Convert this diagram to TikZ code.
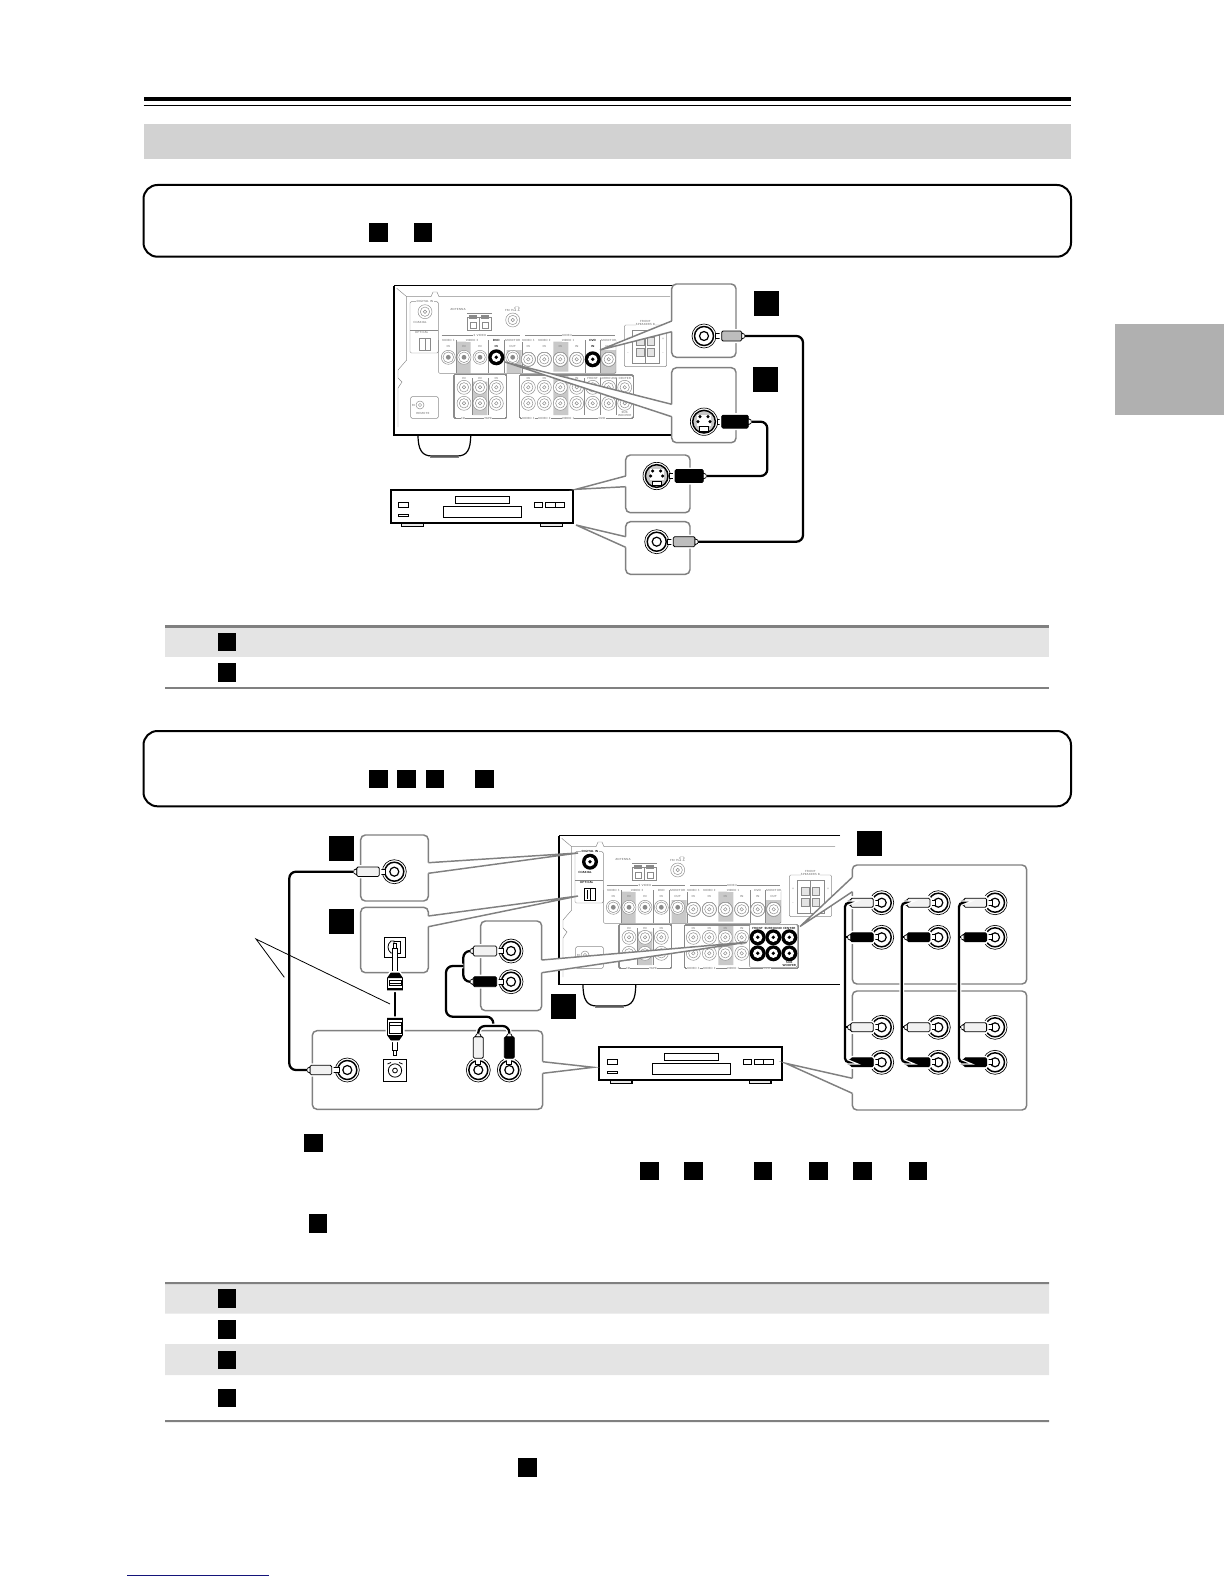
\documentclass[tikz,border=0pt]{standalone}
\usetikzlibrary{positioning}
\definecolor{bandgray}{HTML}{D2D2D2}
\definecolor{tablegray}{HTML}{E4E4E4}
\definecolor{rulegray}{HTML}{808080}
\definecolor{tabgray}{HTML}{B0B0B0}
\definecolor{plugGray}{HTML}{BDBDBD}
\definecolor{plugWhite}{HTML}{F2F2F2}
\definecolor{panelgray}{HTML}{8A8A8A}
\definecolor{hilite}{HTML}{C9C9C9}
\definecolor{footnavy}{HTML}{14147A}
\tikzset{
	panel/.style={draw=panelgray,line width=.35pt},
	paneltext/.style={text=panelgray,inner sep=.2pt,font=\fontsize{2.2}{2.5}\selectfont\sffamily\bfseries,align=center},
	darktext/.style={paneltext,text=black,fill=white},
	tag/.style={fill=black,inner sep=0pt,minimum width=13.9pt,minimum height=14pt},
	bigtag/.style={fill=black,inner sep=0pt,minimum size=18.75pt},
	notebox/.style={draw=black,line width=1.5pt,rounded corners=10.5pt},
	boxline/.style={draw=rulegray,line width=1.1pt,rounded corners=3.5pt},
	plugline/.style={draw=black,line width=.6pt},
	halo/.style={preaction={draw=white,line width=3pt}},
	cable/.style={draw=black,line width=1.7pt,rounded corners=5pt,preaction={draw=white,line width=3.6pt}},
	jackrim/.style={circle,draw=black,fill=white,line width=.5pt,inner sep=0pt,minimum size=18pt},
	jackring/.style={circle,draw=black,line width=1.1pt,inner sep=0pt,minimum size=14.25pt},
	jackcore/.style={circle,draw=black,line width=.9pt,inner sep=0pt,minimum size=6.75pt},
	sjackrim/.style={jackrim,minimum size=20.5pt},
	sjackring/.style={jackring,fill=hilite,minimum size=17pt},
	socket/.style={rectangle,draw=black,fill=white,line width=.7pt,inner sep=0pt,minimum width=16pt,minimum height=15pt},
}
\newcommand{\pjack}[2]{%
	\draw[panel,fill=white] (#1,#2) circle (5.25pt);
	\draw[panel] (#1,#2) circle (3.5pt) (#1,#2) circle (1.3pt);
}
\newcommand{\psjack}[2]{%
	\draw[panel,fill=white] (#1,#2) circle (5.25pt);
	\draw[panel] (#1,#2) circle (4pt);
	\fill[panelgray] (#1,#2) circle (1.8pt);
}
\newcommand{\blackjack}[2]{%
	\node (#1) at (#2) [circle,fill=black,inner sep=0pt,minimum size=12pt] {};
	\node (#1r) at (#1) [circle,fill=white,inner sep=0pt,minimum size=7pt] {};
	\node (#1c) at (#1) [circle,fill=black,inner sep=0pt,minimum size=2.8pt] {};
}
\newcommand{\rcajack}[2]{%
	\node (#1) at (#2) [jackrim] {};
	\node (#1r) at (#1) [jackring] {};
	\node (#1c) at (#1) [jackcore] {};
}
\newcommand{\sjack}[2]{%
	\node (#1) at (#2) [sjackrim] {};
	\node (#1r) at (#1) [sjackring] {};
	\begin{scope}[shift={(#1)}]
		\fill[white] (-7,-7) rectangle (7,4);
		\fill (-4,-5) circle (1.3pt) (4,-5) circle (1.3pt) (-6,0) circle (1.3pt) (6,0) circle (1.3pt);
		\draw[plugline,fill=white] (-4.5,5) rectangle (4.5,9.5);
	\end{scope}
}
\newcommand{\rcaplug}[7]{%
	\begin{scope}[shift={(#1)},rotate=#2]
		\draw[plugline,fill=white] (#3,-2.5) rectangle (#4,2.5);
		\draw[plugline,fill=#6,rounded corners=1pt,halo] (#4,-#7) rectangle (#5,#7);
		\draw[plugline,fill=white] (#5,-3) -- ({#5+3},-1.5) -- ({#5+3},1.5) -- (#5,3) -- cycle;
		\coordinate (#1e) at ({#5+3},0);
	\end{scope}
}
\newcommand{\optplug}[5]{%
	\begin{scope}[shift={(#2)},rotate=#3]
		\coordinate (#1) at (0,0);
		\draw[plugline,fill=white] (#4,-2.5) rectangle ({#4+#5-5},2.5);
		\draw[plugline,fill=white] ({#4+#5-5},-1.5) rectangle ({#4+#5},1.5);
		\draw[plugline,fill=white,halo] (0,-7.5) -- ({#4-5},-7.5) -- (#4,-4) -- (#4,4) -- ({#4-5},7.5) -- (0,7.5) -- cycle;
		\fill (0,-7.5) rectangle (2,7.5);
		\fill ({#4-5},-7.5) -- (#4,-4) -- (#4,4) -- ({#4-5},7.5) -- cycle;
		\draw[plugline] (4.5,-6) rectangle ({#4-7},6) (7,-6) -- (7,6);
	\end{scope}
}
\newcommand{\calloutleft}[8]{%
	\coordinate (#1) at (#8);
	\fill[white,rounded corners=3.5pt] (#2,#3) rectangle (#4,#5);
	\draw[boxline] (#2,#6) -- (#2,#3) -- (#4,#3) -- (#4,#5) -- (#2,#5) -- (#2,#7);
	\draw[boxline,sharp corners,fill=white] (#2,#6) -- (#1) -- (#2,#7);
}
\newcommand{\calloutright}[8]{%
	\coordinate (#1) at (#8);
	\fill[white,rounded corners=3.5pt] (#2,#3) rectangle (#4,#5);
	\draw[boxline] (#4,#6) -- (#4,#3) -- (#2,#3) -- (#2,#5) -- (#4,#5) -- (#4,#7);
	\draw[boxline,sharp corners,fill=white] (#4,#6) -- (#1) -- (#4,#7);
}
\newcommand{\dvdplayer}[2]{%
	\begin{scope}[shift={(#1,#2)}]
		\draw[line width=.9pt,fill=hilite!40] (401.7,523.3) rectangle (423.3,526.8) (540.7,523.3) rectangle (562.3,526.8);
		\draw[line width=1.5pt,fill=white] (390.7,490) rectangle (573.3,523.3);
		\draw[line width=.7pt] (455.3,496.7) rectangle (509.7,503.3) (443.3,506.7) rectangle (521.7,517.3);
		\draw[line width=.7pt] (398.3,502.3) rectangle (408.7,507.3) (398.3,514.3) rectangle (408.7,516.7);
		\foreach \bx/\by in {534.3/542.7,545.3/555,555/564.3}
			\draw[line width=.7pt] (\bx,502.3) rectangle (\by,507.3);
	\end{scope}
}
\newcommand{\receiver}[3]{%
	\begin{scope}[shift={(#1,#2)}]
		\draw[line width=.9pt] (675,285.7) -- (394,285.7);
		\draw[line width=#3] (394,285.7) -- (394,434.7) -- (675,434.7);
		\draw[line width=.9pt] (418,434.7) .. controls (418,450) and (422,456) .. (432,456) -- (457,456) .. controls (467,456) and (470.7,450) .. (470.7,434.7);
		\draw[rulegray,line width=1.2pt] (430,457.6) -- (459,457.6);
		\draw[panel] (396.7,288.3) -- (406.7,296.7) -- (431,296.7) -- (433,292) -- (437,292) -- (439,296.7) -- (670,296.7);
		\draw[panel] (406.7,296.7) -- (406.7,360) -- (398,370) -- (398,378) -- (402,382) -- (398,388) -- (398,427);
		\draw[panel,rounded corners=1pt] (410,301.7) rectangle (438.3,353);
		\draw[panel] (410,330) -- (438.3,330);
		\pjack{425}{311.7}
		\draw[panel] (419.5,338.5) rectangle (430.5,350) (425,338.5) -- (425,350);
		\node (lbDigital) at (425,301.7) [paneltext,fill=white] {DIGITAL IN};
		\node (lbCoax) at (420,322.3) [paneltext] {COAXIAL};
		\node (lbOpt) at (421.7,332.7) [paneltext] {OPTICAL};
		\node (lbAnt) at (458,309) [paneltext] {ANTENNA};
		\draw[panel] (467,313) -- (491.5,313);
		\foreach \ax in {467,479.3} {
			\draw[panel] (\ax,317) rectangle (\ax+12,330);
			\draw[panel] (\ax+3,322) rectangle (\ax+9,328);
			\fill[panelgray] (\ax+2,315) rectangle (\ax+10,319);
		}
		\pjack{512.7}{320}
		\node (lbFm) at (512.7,309) [paneltext] {FM 75$\Omega$};
		\fill[hilite] (456,341.7) rectangle (470.7,373.3) (506.7,350) rectangle (521.7,373.3);
		\fill[hilite] (553.3,341.7) rectangle (568.3,371.7) (601,350) rectangle (616,373.3);
		\fill[hilite] (472.7,381.7) rectangle (487.3,415) (553.3,375) rectangle (568.3,415);
		\draw[panel,rounded corners=1pt] (438.3,340) -- (438.3,373.3) -- (616,373.3) -- (616,340);
		\draw[panel] (441.7,335) -- (520,335) (525,335) -- (615,335);
		\foreach \dx in {456,488,504.5,522,585,600.5}
			\draw[panel] (\dx,340) -- (\dx,373.3);
		\node (lbSvideo) at (480,335) [paneltext,fill=white] {S VIDEO};
		\node (lbVideo) at (567,335) [paneltext,fill=white] {VIDEO};
		\foreach \lx/\lname [count=\li] in {448.3/VIDEO 3,472/VIDEO 2,496.3/DVD,512.7/MONITOR,528.3/VIDEO 3,544.3/VIDEO 2,568/VIDEO 1,592.7/DVD,608.7/MONITOR}
			\node (lbCol\li) at (\lx,340.5) [paneltext,fill=white] {\lname};
		\foreach \lx [count=\li] in {448.3,464,480,496.3,528.3,544.3,560.3,576.7,592.7}
			\node (lbIn\li) at (\lx,346) [paneltext] {IN};
		\foreach \lx [count=\li] in {512.7,608.7}
			\node (lbOut\li) at (\lx,346) [paneltext] {OUT};
		\foreach \sx in {448.3,464,480,496.3,512.7}
			\psjack{\sx}{357.3}
		\foreach \vx in {528.3,544.3,560.3,576.7,592.7,608.7}
			\pjack{\vx}{359.3}
		\draw[panel,rounded corners=1pt] (454,374.3) rectangle (506.7,418.3) (519.3,375) rectangle (633.3,418.3);
		\foreach \dx in {472,488,584.5,600.5,616.5}
			\draw[panel] (\dx,378) -- (\dx,415);
		\foreach \lx [count=\li] in {464,480,496.3,528.3,544.3,560.3,576.7} {
			\node (lbLow\li) at (\lx,378.5) [paneltext] {IN};
			\pjack{\lx}{387.3}
			\pjack{\lx}{403.3}
		}
		\foreach \lx in {592.7,608.7,624.7} {
			\pjack{\lx}{387.3}
			\pjack{\lx}{403.3}
		}
		\foreach \lx/\lname [count=\li] in {592.7/FRONT,608.7/SURROUND,624.7/CENTER}
			\node (lbFr\li) at (\lx,378.3) [paneltext] {\lname};
		\node (lbSub) at (624.7,414) [paneltext] {SUB\\WOOFER};
		\foreach \lx/\lname [count=\li] in {463/CD,488/TAPE,528.3/VIDEO 3,544.3/VIDEO 2,568/VIDEO 1,602/DVD}
			\node (lbBot\li) at (\lx,418.3) [paneltext,fill=white] {\lname};
		\draw[panel,rounded corners=1pt] (410.7,396.7) rectangle (438.3,418.3);
		\draw[panel] (420,405) circle (3pt) (420,405) circle (1.2pt);
		\node (lbRi) at (413.5,405) [paneltext] {RI};
		\node (lbRem) at (423,413.5) [paneltext] {REMOTE};
		\draw[panel,rounded corners=1pt] (624.3,325) rectangle (666.7,366.7);
		\node (lbSpk) at (645.5,322.7) [paneltext,fill=white] {FRONT\\SPEAKERS B};
		\draw[panel] (632.3,330) rectangle (659,363.3) (645.5,330) -- (645.5,363.3);
		\foreach \sx in {636.7,647} \foreach \sy in {337.3,348.3}
			\draw[panel,fill=hilite!50] (\sx,\sy) rectangle (\sx+7.6,\sy+7.7);
		\node (lbPlusA) at (628,339) [paneltext] {+};
		\node (lbPlusB) at (663,339) [paneltext] {+};
		\node (lbMinA) at (628,353) [paneltext] {--};
		\node (lbMinB) at (663,353) [paneltext] {--};
	\end{scope}
}
\begin{document}
\begin{tikzpicture}[x=.75pt,y=-.75pt]
	\useasboundingbox (0,0) rectangle (1224,1584);
	\fill (143.5,97) rectangle (1071,101);
	\draw[line width=.9pt] (143.5,105.5) -- (1071,105.5);
	\fill[bandgray] (143.5,124) rectangle (1071,158.7);
	\fill[tabgray] (1115,324) rectangle (1224,415);
	\draw[footnavy,line width=.8pt] (127,1575.3) -- (269,1575.3);

	\draw[notebox] (143.5,185) rectangle (1071,256.7);
	\node (noteTagA) at (378.3,232.5) [tag] {};
	\node (noteTagB) at (423,232.5) [tag] {};

	\receiver{0}{0}{1.5pt}
	\calloutleft{tipCoax}{671.7}{284}{736}{357.3}{321}{331.7}{600,350}
	\calloutleft{tipSvid}{671.7}{367.7}{736}{442.7}{404.3}{416.7}{505,362}
	\dvdplayer{0}{0}
	\calloutleft{tipDvdS}{625.7}{455}{690}{512.7}{476}{486.7}{576,489.3}
	\calloutleft{tipDvdC}{625.7}{521.7}{690}{574.3}{536.7}{547.3}{576,525}
	\blackjack{rxSvid}{496.3,357.3}
	\blackjack{rxCoax}{592.7,359.3}
	\node (lbDvdS) at (496.3,340.5) [darktext] {DVD};
	\node (lbInS) at (496.3,346) [darktext] {IN};
	\node (lbDvdC) at (592.7,340.5) [darktext] {DVD};
	\node (lbInC) at (592.7,346) [darktext] {IN};
	\node (tagCoax) at (766.5,303.5) [bigtag] {};
	\node (tagSvid) at (765.5,379) [bigtag] {};

	\rcajack{jkCoax}{704,336}
	\sjack{jkSvid}{704,421.7}
	\sjack{jkDvdS}{656.7,476}
	\rcajack{jkDvdC}{656.7,541.7}
	\rcaplug{jkCoax}{0}{11}{17.7}{37.7}{plugGray}{5}
	\rcaplug{jkSvid}{0}{13}{17.7}{44.3}{black}{6.5}
	\rcaplug{jkDvdS}{0}{13}{18.3}{46.6}{black}{6.5}
	\rcaplug{jkDvdC}{0}{11}{16.6}{38.3}{plugGray}{5}
	\draw[cable] (jkCoaxe) -- (803,336) -- (803,541.7) -- (jkDvdCe);
	\draw[cable] (jkSvide) -- (767.3,421.7) -- (767.3,476) -- (jkDvdSe);

	\fill[tablegray] (165,627.7) rectangle (1049,656.7);
	\fill[rulegray] (165,687) rectangle (1049,689);
	\fill[rulegray] (165,625) rectangle (1049,627.7);
	\node (rowTagA) at (227,642) [tag] {};
	\node (rowTagB) at (227,672.5) [tag] {};

	\draw[notebox] (143.5,731) rectangle (1071,806.3);
	\foreach \tx [count=\tn] in {378.3,406.4,434.9,484.5}
		\node (noteTag\tn) at (\tx,779) [tag] {};

	\receiver{165}{550}{.9pt}
	\dvdplayer{208.7}{556.7}
	\calloutright{tipDigi}{360.7}{835}{428.3}{901}{862.7}{873.3}{578,853}
	\calloutright{tipOpti}{360.7}{907.3}{428.3}{972.7}{916}{926.7}{578,896}
	\calloutright{tipAna}{480.7}{921}{541.7}{1010.7}{960}{972.7}{746.7,942.3}
	\calloutright{tipDvdB}{312.3}{1030.7}{542.7}{1109.3}{1061.7}{1073.3}{593.3,1067.3}
	\calloutleft{tipFront}{852.3}{865}{1026.7}{984}{877.3}{891.7}{800,926.5}
	\calloutleft{tipDvdR}{852.3}{991}{1026.7}{1110}{1078.3}{1093.3}{785.7,1063.3}

	\blackjack{rxDigi}{590,861.7}
	\node (rxOpti) at (590,894.3) [rectangle,draw=black,fill=white,line width=.7pt,inner sep=0pt,minimum size=8.5pt] {};
	\draw[line width=.5pt] (590,889) -- (590,899.5) (587,890) -- (587,898.5);
	\node (lbDigiB) at (590,851.7) [darktext] {DIGITAL IN};
	\node (lbCoaxB) at (585,872.3) [darktext] {COAXIAL};
	\node (lbOptiB) at (586.7,882.7) [darktext] {OPTICAL};
	\draw[panel,rounded corners=1pt,fill=white] (749.3,924.3) rectangle (797.3,967.3);
	\foreach \fx/\ft [count=\fn] in {757.7/FRONT,773.3/SURROUND,789.3/CENTER} {
		\node (lbFrontB\fn) at (\fx,928.3) [darktext] {\ft};
		\blackjack{rxFa\fn}{\fx,937.3}
		\blackjack{rxFb\fn}{\fx,953.3}
	}
	\node (lbSubB) at (789.3,964) [darktext] {SUB\\WOOFER};

	\node (tagDigi) at (341.5,848.5) [bigtag] {};
	\node (tagOpti) at (341.5,921.5) [bigtag] {};
	\node (tagAna) at (563,1006.5) [bigtag] {};
	\node (tagFront) at (869.5,843.5) [bigtag] {};

	\rcajack{jkDigi}{394.3,871.7}
	\rcajack{jkDvdD}{347.3,1070}
	\rcaplug{jkDigi}{180}{9}{15}{37.6}{plugWhite}{4.7}
	\rcaplug{jkDvdD}{180}{8}{15.6}{37.3}{plugWhite}{4.7}
	\draw[cable] (jkDigie) -- (289.3,871.7) -- (289.3,1070) -- (jkDvdDe);

	\node (skOpti) at (395,947) [socket] {};
	\draw[plugline] (394,941) -- (391,941) .. controls (387,944) and (387,950) .. (391,953) -- (394,953) -- cycle;
	\draw[plugline] (394,941) -- (400,941) -- (400,953) -- (394,953);
	\node (skDvdO) at (395,1070.5) [socket,minimum width=17pt,minimum height=16.5pt] {};
	\draw[plugline] (395,1070.5) circle (5pt) (395,1070.5) circle (1.8pt) (387.5,1064) -- (391,1062.5) (402.5,1064) -- (399,1062.5);
	\draw[cable] (395,990) -- (395,1018.3);
	\optplug{plOptA}{395,990}{90}{17}{30}
	\optplug{plOptB}{395,1018.3}{-90}{21.7}{15}

	\rcajack{jkAnaW}{511,951}
	\rcajack{jkAnaK}{511,981.7}
	\rcajack{jkDvdW}{478.3,1070}
	\rcajack{jkDvdK}{509.3,1070}
	\rcaplug{jkAnaW}{180}{8}{14.3}{37.7}{plugWhite}{5}
	\rcaplug{jkAnaK}{180}{8}{14.3}{37.7}{black}{5}
	\rcaplug{jkDvdW}{90}{6}{11.7}{33.3}{plugWhite}{5}
	\rcaplug{jkDvdK}{90}{6}{11.7}{33.3}{black}{5}
	\draw[cable] (jkAnaWe) -- (463.3,951) -- (463.3,981.7) -- (jkAnaKe);
	\draw[cable] (463.3,966) -- (446,966) -- (446,1016.7) -- (493.3,1016.7) -- (493.3,1026);
	\draw[cable] (jkDvdWe) -- (478.3,1026) -- (509.3,1026) -- (jkDvdKe);

	\foreach \cx/\px [count=\cn] in {881.7/845,938.3/901.7,995/959} {
		\rcajack{jkRa\cn}{\cx,902.7}
		\rcajack{jkRb\cn}{\cx,937.3}
		\rcajack{jkRc\cn}{\cx,1027.3}
		\rcajack{jkRd\cn}{\cx,1062.3}
		\rcaplug{jkRa\cn}{180}{3}{8.4}{31}{plugWhite}{4.5}
		\rcaplug{jkRb\cn}{180}{3}{8.4}{31}{black}{4.5}
		\rcaplug{jkRc\cn}{180}{3}{8.4}{31}{plugWhite}{4.5}
		\rcaplug{jkRd\cn}{180}{3}{8.4}{31}{black}{4.5}
		\draw[cable,rounded corners=3pt] (jkRa\cn e) -- (\px,902.7) -- (\px,1062.3) -- (jkRd\cn e);
		\draw[line width=1.3pt] (jkRb\cn e) -- (\px,937.3);
		\draw[line width=1.3pt] (jkRc\cn e) -- (\px,1027.3);
	}

	\coordinate (noteApex) at (256,939);
	\coordinate (noteCoax) at (284.3,977.3);
	\coordinate (noteOpti) at (390,1004);
	\draw[line width=.6pt] (noteCoax) -- (noteApex) -- (noteOpti);

	\node (textTagA) at (313.4,1143) [tag] {};
	\foreach \tx [count=\tn] in {649.5,693.5,763,818.4,862.5,918.2}
		\node (textTagB\tn) at (\tx,1171) [tag] {};
	\node (textTagC) at (318,1223.5) [tag] {};

	\fill[tablegray] (165,1284) rectangle (1049,1313.7) (165,1344) rectangle (1049,1375);
	\fill[rulegray] (165,1282) rectangle (1049,1284) (165,1420) rectangle (1049,1422);
	\foreach \ty [count=\tn] in {1298.5,1329.5,1360,1398}
		\node (rowTagC\tn) at (227,\ty) [tag] {};
	\node (footTag) at (527.6,1467.5) [tag] {};
\end{tikzpicture}
\end{document}
